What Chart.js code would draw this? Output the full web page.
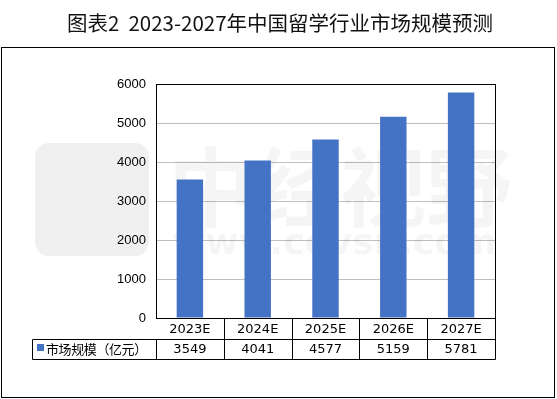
<!DOCTYPE html>
<html>
<head>
<meta charset="utf-8">
<script src="https://cdn.jsdelivr.net/npm/chart.js@4"></script>
<style>
  html, body { margin: 0; padding: 0; background: #fff; }
  #wrap { width: 557px; height: 399px; }
</style>
</head>
<body>
<div id="wrap"><canvas id="chart"></canvas></div>
<script>
// Data
const categories = ['2023E', '2024E', '2025E', '2026E', '2027E'];
const marketSize = [3549, 4041, 4577, 5159, 5781];
const seriesName = '市场规模（亿元）';
const titleText = '图表2  2023-2027年中国留学行业市场规模预测';
const yTicks = [0, 1000, 2000, 3000, 4000, 5000, 6000];

const barColor = '#4472C4';
const tableFont = '13px "DejaVu Sans", sans-serif';
const cjkFont = '13px "Noto Sans CJK SC", sans-serif';

function px(v) { return Math.round(v) + 0.5; }

// faint watermark + title, behind the bars
const background = {
    id: 'background',
    beforeDatasetsDraw(chart) {
        const ctx = chart.ctx;
        ctx.save();
        ctx.fillStyle = 'rgba(0,0,0,0.06)';
        ctx.beginPath();
        ctx.roundRect(35, 143, 114, 113, 14);
        ctx.fill();
        ctx.fillStyle = 'rgba(0,0,0,0.04)';
        ctx.font = 'bold 86px "Noto Sans CJK SC", sans-serif';
        ctx.textBaseline = 'middle';
        ctx.textAlign = 'left';
        ctx.fillText('中经视野', 168, 187);
        ctx.font = 'bold 36px "DejaVu Sans", sans-serif';
        ctx.fillText('www.cevsn.com', 172, 245);

        // title
        ctx.fillStyle = '#111';
        ctx.font = '20.5px "Noto Sans CJK SC", sans-serif';
        ctx.textAlign = 'center';
        ctx.fillText(titleText, 280, 23);
        ctx.restore();
    }
};

// frame, plot border and the data table under the axis
const dataTable = {
    id: 'dataTable',
    afterDraw(chart) {
        const ctx = chart.ctx;
        const area = chart.chartArea;
        const x = chart.scales.x;
        const half = (x.right - x.left) / categories.length / 2;
        const row1Top = area.bottom;
        const row1Bot = row1Top + 21;
        const row2Bot = row1Bot + 20;
        const legendLeft = 32;

        ctx.save();
        ctx.strokeStyle = '#000';
        ctx.lineWidth = 1;

        // outer frame
        ctx.strokeRect(1.5, 47.5, 553, 350);
        // plot border
        ctx.strokeRect(px(area.left), px(area.top), Math.round(area.right - area.left), Math.round(area.bottom - area.top));

        ctx.beginPath();
        ctx.moveTo(px(area.left), px(row1Bot));
        ctx.lineTo(px(area.left), px(row2Bot));
        ctx.moveTo(px(legendLeft), px(row1Bot));
        ctx.lineTo(px(area.right), px(row1Bot));
        ctx.moveTo(px(legendLeft), px(row2Bot));
        ctx.lineTo(px(area.right), px(row2Bot));
        ctx.moveTo(px(legendLeft), px(row1Bot));
        ctx.lineTo(px(legendLeft), px(row2Bot));
        categories.forEach((c, i) => {
            const r = x.getPixelForValue(i) + half;
            ctx.moveTo(px(r), px(row1Top));
            ctx.lineTo(px(r), px(row2Bot));
        });
        ctx.stroke();

        ctx.fillStyle = '#000';
        ctx.textAlign = 'center';
        ctx.textBaseline = 'middle';
        ctx.font = tableFont;
        categories.forEach((c, i) => {
            const cx = x.getPixelForValue(i);
            ctx.fillText(c, cx, (row1Top + row1Bot) / 2 + 1);
            ctx.fillText(String(marketSize[i]), cx, (row1Bot + row2Bot) / 2 + 1);
        });

        // legend key + series name
        ctx.fillStyle = barColor;
        ctx.fillRect(37, 344, 7, 7);
        ctx.fillStyle = '#000';
        ctx.textAlign = 'left';
        ctx.font = cjkFont;
        let tx = 46;
        for (const ch of seriesName) {
            ctx.fillText(ch, tx, (row1Bot + row2Bot) / 2);
            tx += 12.6;
        }
        ctx.restore();
    }
};

new Chart(document.getElementById('chart'), {
    type: 'bar',
    data: {
        labels: categories,
        datasets: [{
            label: seriesName,
            data: marketSize,
            backgroundColor: barColor,
            categoryPercentage: 1,
            barPercentage: 0.39
        }]
    },
    options: {
        responsive: true,
        maintainAspectRatio: false,
        animation: false,
        layout: { padding: { left: 0, right: 62, top: 84, bottom: 0 } },
        plugins: {
            legend: { display: false },
            tooltip: { enabled: false },
            title: { display: false }
        },
        scales: {
            x: {
                grid: { display: false },
                border: { display: false },
                ticks: { display: false },
                afterFit(scale) { scale.height = 81; }
            },
            y: {
                min: 0,
                max: 6000,
                afterBuildTicks(scale) { scale.ticks = yTicks.map(v => ({ value: v })); },
                afterFit(scale) { scale.width = 156; },
                grid: { color: '#bfbfbf', drawTicks: false },
                border: { color: '#000' },
                ticks: {
                    color: '#000',
                    padding: 10,
                    callback: v => String(v),
                    font: { family: '"Liberation Sans", Arial, sans-serif', size: 13 }
                }
            }
        }
    },
    plugins: [background, dataTable]
});
</script>
</body>
</html>
